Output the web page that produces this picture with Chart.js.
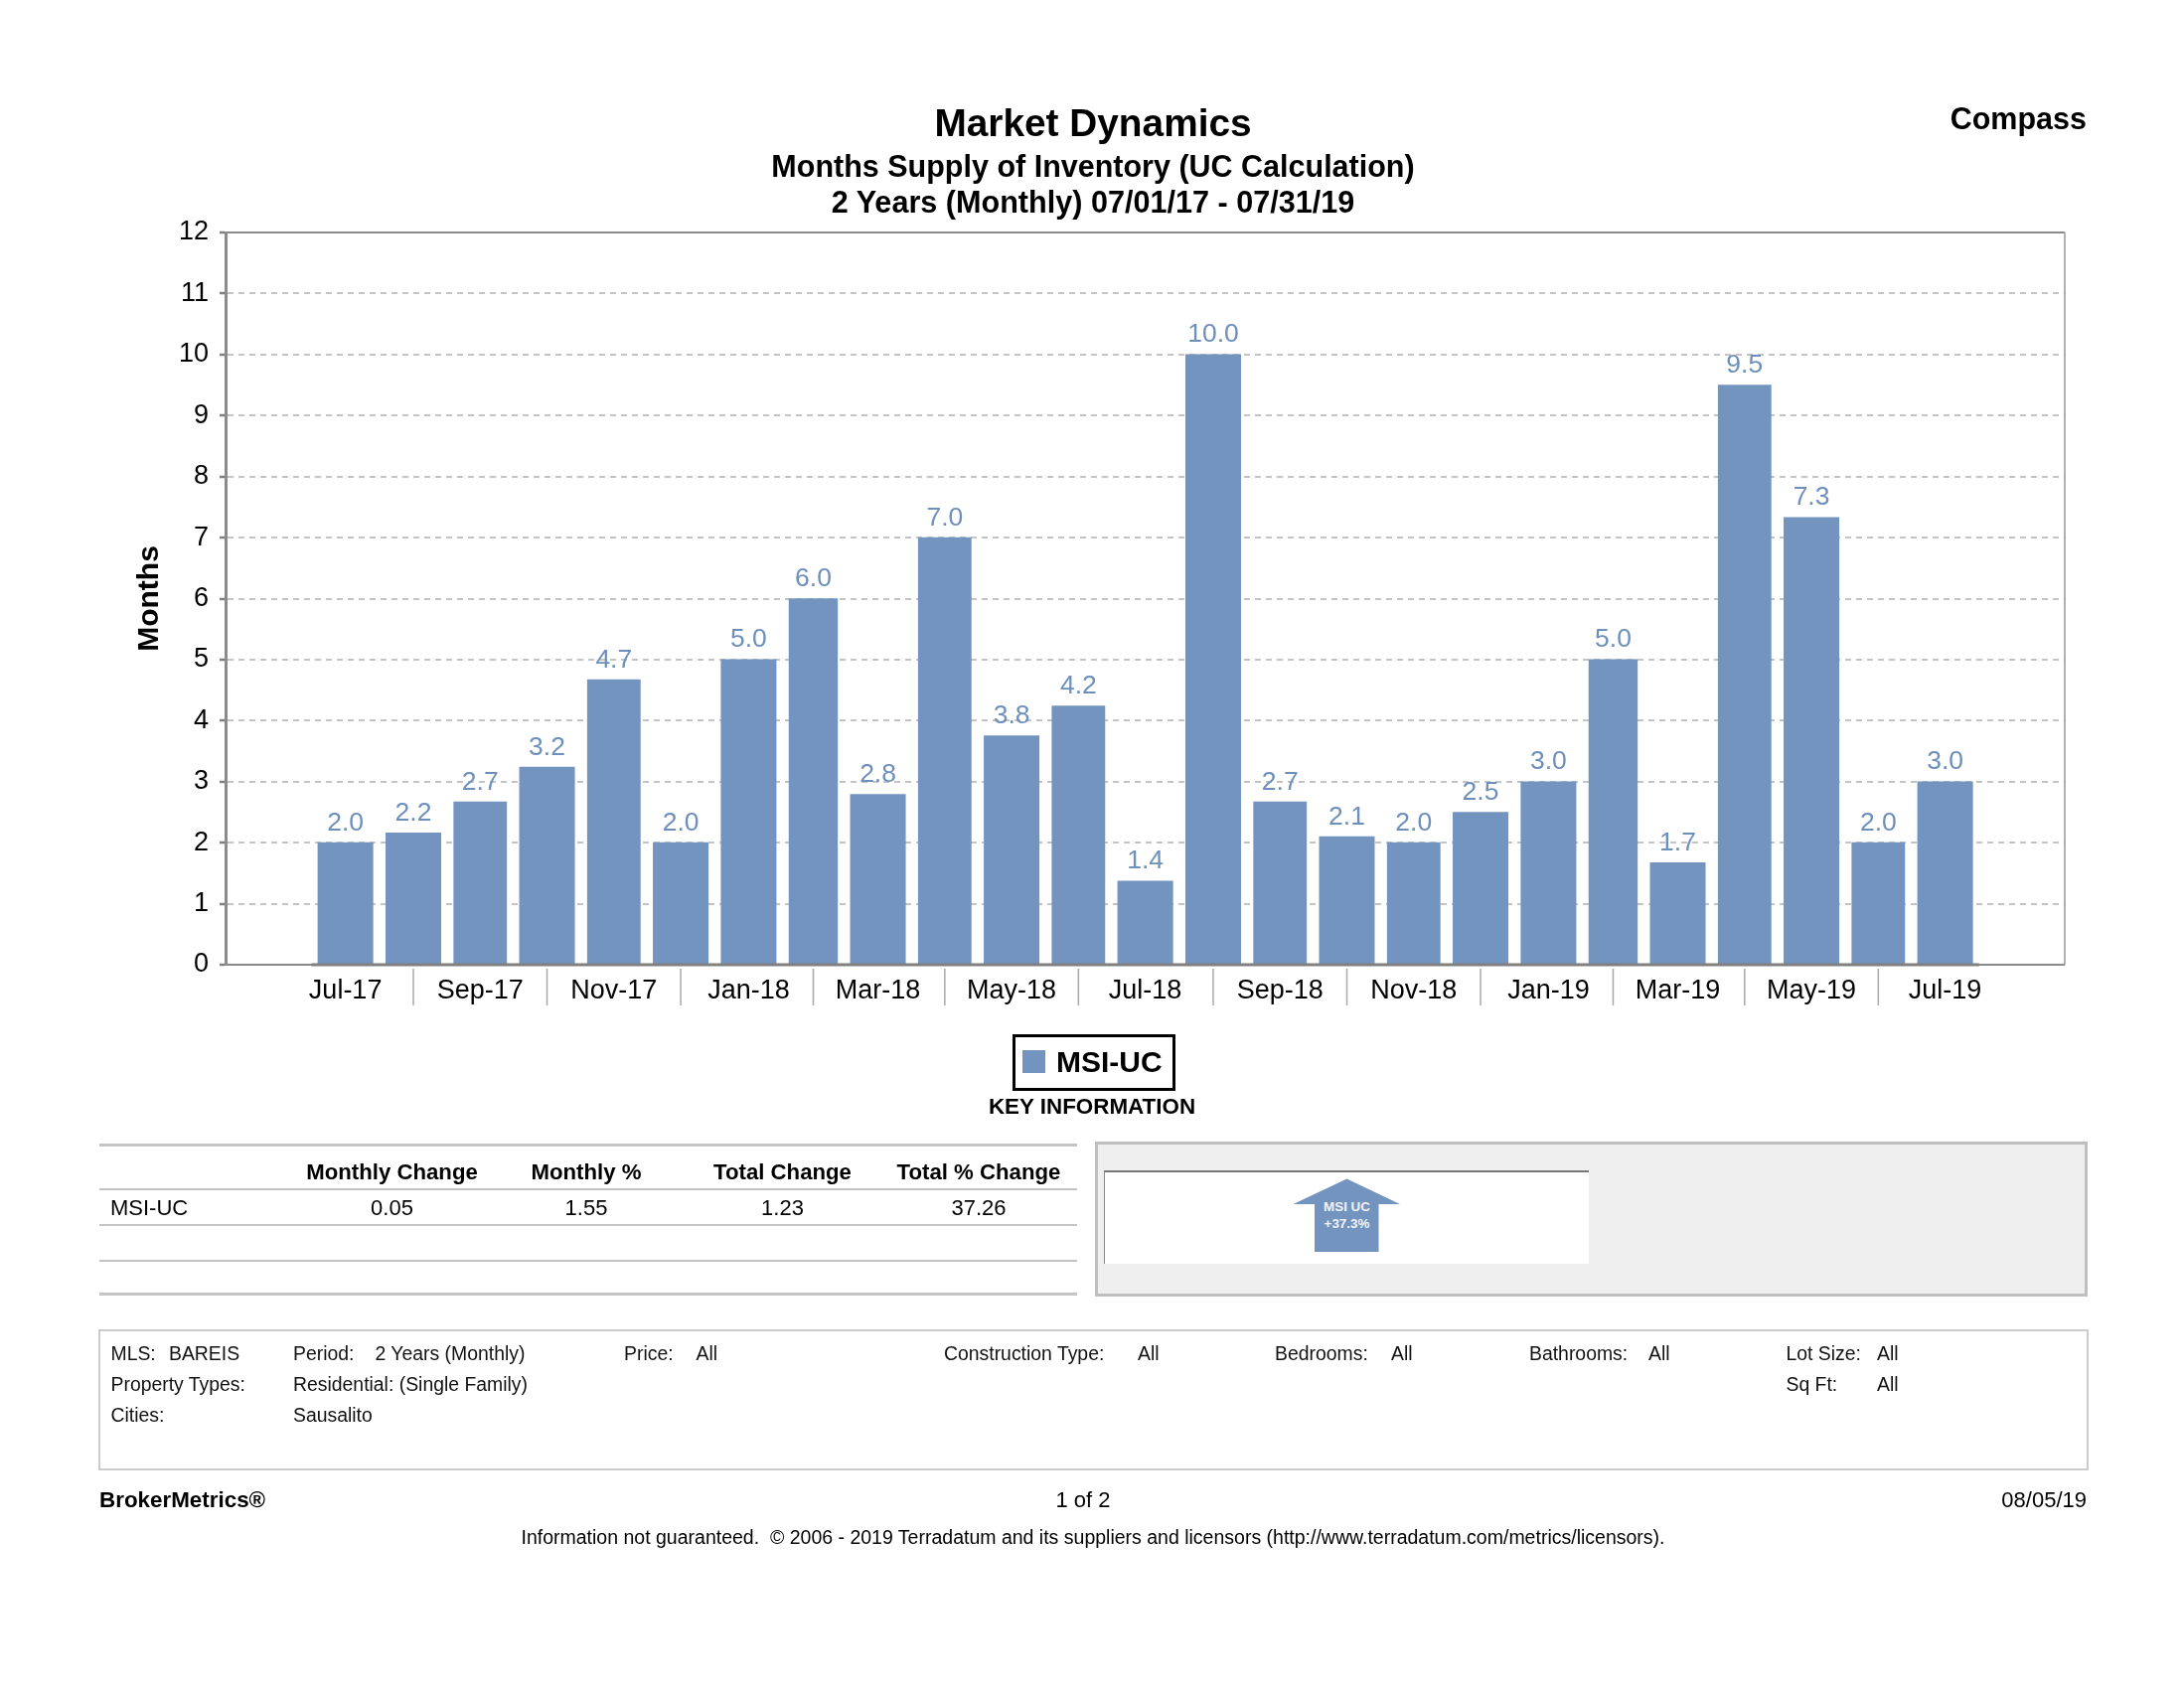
<!DOCTYPE html>
<html>
<head>
<meta charset="utf-8">
<title>Market Dynamics</title>
<script src="https://cdn.jsdelivr.net/npm/chart.js@4"></script>
<style>
  html, body { margin: 0; padding: 0; background: #fff; }
  #page { position: relative; width: 2198px; height: 1700px; overflow: hidden;
    font-family: "Liberation Sans", Arial, sans-serif; color: #000; }
  #page canvas { position: absolute; left: 0; top: 0; }
  .t { position: absolute; white-space: nowrap; transform: translateY(-50%); line-height: 1; }
  .c { transform: translate(-50%, -50%); }
  .r { transform: translate(-100%, -50%); }
  .b { font-weight: bold; }
  .hl { position: absolute; left: 100px; width: 984px; background: #c4c4c4; }
  .meta { color: #111; }
</style>
</head>
<body>
<div id="page">
  <canvas id="chart" width="2198" height="1700"></canvas>

  <div class="t c b" style="left:1100px;top:124px;font-size:38.8px">Market Dynamics</div>
  <div class="t c b" style="left:1100px;top:167px;font-size:30.5px">Months Supply of Inventory (UC Calculation)</div>
  <div class="t c b" style="left:1100px;top:203px;font-size:30.6px">2 Years (Monthly) 07/01/17 - 07/31/19</div>
  <div class="t r b" style="left:2100px;top:119px;font-size:30.5px">Compass</div>

  <!-- legend -->
  <div style="position:absolute;left:1019px;top:1041px;width:158px;height:51px;border:3.5px solid #000"></div>
  <div id="swatch" style="position:absolute;left:1029px;top:1057px;width:23px;height:23px"></div>
  <div class="t b" id="legendText" style="left:1063px;top:1069px;font-size:30px"></div>
  <div class="t c b" style="left:1099px;top:1114px;font-size:22.4px">KEY INFORMATION</div>

  <!-- key information table -->
  <div class="hl" style="top:1151px;height:3px"></div>
  <div class="hl" style="top:1196px;height:2px"></div>
  <div class="hl" style="top:1232px;height:2px"></div>
  <div class="hl" style="top:1268px;height:2px"></div>
  <div class="hl" style="top:1301px;height:3px"></div>
  <div id="keyTable"></div>

  <!-- change arrow panel -->
  <div style="position:absolute;left:1102px;top:1149px;width:993px;height:150px;background:#efefef;border:3px solid #bfbfbf"></div>
  <div style="position:absolute;left:1111px;top:1178px;width:487px;height:92px;background:#fff;border-top:2px solid #777;border-left:1.5px solid #888"></div>
  <svg style="position:absolute;left:0;top:0" width="2198" height="1700">
    <polygon id="arrow" points="1355.5,1186.5 1409,1212 1387.5,1212 1387.5,1260 1323,1260 1323,1212 1301.5,1212"/>
    <text x="1355.5" y="1219" text-anchor="middle" fill="#f0f3f8" font-family="Liberation Sans" font-weight="bold" font-size="13.4">MSI UC</text>
    <text x="1355.5" y="1236" text-anchor="middle" fill="#f0f3f8" font-family="Liberation Sans" font-weight="bold" font-size="13.4">+37.3%</text>
  </svg>

  <!-- report settings -->
  <div style="position:absolute;left:99px;top:1338px;width:1999px;height:138px;border:2px solid #ccc"></div>
  <div id="meta"></div>

  <div class="t b" style="left:100px;top:1510px;font-size:22.4px">BrokerMetrics®</div>
  <div class="t c" style="left:1090px;top:1510px;font-size:22px">1 of 2</div>
  <div class="t r" style="left:2100px;top:1510px;font-size:22px">08/05/19</div>
  <div class="t c" style="left:1100px;top:1548px;font-size:19.5px">Information not guaranteed.&nbsp; © 2006 - 2019 Terradatum and its suppliers and licensors (http://www.terradatum.com/metrics/licensors).</div>
</div>

<script>
const FONT = '"Liberation Sans", Arial, sans-serif';
const BAR_COLOR = "#7294bf";
const LABEL_COLOR = "#6d8fbc";

const seriesName = "MSI-UC";
const months = [
  "Jul-17", "Aug-17", "Sep-17", "Oct-17", "Nov-17", "Dec-17", "Jan-18",
  "Feb-18", "Mar-18", "Apr-18", "May-18", "Jun-18", "Jul-18", "Aug-18",
  "Sep-18", "Oct-18", "Nov-18", "Dec-18", "Jan-19", "Feb-19", "Mar-19",
  "Apr-19", "May-19", "Jun-19", "Jul-19",
];
// the x axis is a date axis, so a bar is as wide as its month is long
const monthDays = [
  31, 31, 30, 31, 30, 31, 31, 28, 31, 30, 31, 30, 31, 31, 30, 31, 30, 31, 31,
  28, 31, 30, 31, 30, 31,
];
const msiValues = [
  2.0, 2.16, 2.67, 3.24, 4.67, 2.0, 5.0, 6.0, 2.79, 7.0, 3.75, 4.24, 1.37,
  10.0, 2.67, 2.1, 2.0, 2.5, 3.0, 5.0, 1.67, 9.5, 7.33, 2.0, 3.0,
];

const tableHeaders = ["Monthly Change", "Monthly %", "Total Change", "Total % Change"];
const tableRow = ["0.05", "1.55", "1.23", "37.26"];

// day number of each month's middle, counted from 1 Jul 2017
let dayCount = 0;
const midDays = monthDays.map((d) => {
  const mid = dayCount + d / 2;
  dayCount += d;
  return mid;
});

// page text that sits around the chart
const tableCols = [394.5, 590, 787.5, 985];
tableHeaders.forEach((h, i) => addText("keyTable", h, tableCols[i], 1180, "t c b", 22.2));
tableRow.forEach((v, i) => addText("keyTable", v, tableCols[i], 1216, "t c", 22));
addText("keyTable", seriesName, 111, 1216, "t", 22);

const metaItems = [
  ["MLS:", 111.5, 1363], ["BAREIS", 170, 1363], ["Period:", 295, 1363], ["2 Years (Monthly)", 377.5, 1363],
  ["Price:", 628, 1363], ["All", 700.5, 1363], ["Construction Type:", 950, 1363], ["All", 1145, 1363],
  ["Bedrooms:", 1283, 1363], ["All", 1400, 1363], ["Bathrooms:", 1539, 1363], ["All", 1659, 1363],
  ["Lot Size:", 1797.5, 1363], ["All", 1889, 1363],
  ["Property Types:", 111.5, 1394], ["Residential: (Single Family)", 295, 1394], ["Sq Ft:", 1797.5, 1394], ["All", 1889, 1394],
  ["Cities:", 111.5, 1425], ["Sausalito", 295, 1425],
];
metaItems.forEach((m) => addText("meta", m[0], m[1], m[2], "t meta", 19.4));

function addText(parent, text, x, y, cls, size) {
  const d = document.createElement("div");
  d.className = cls;
  d.textContent = text;
  d.style.left = x + "px";
  d.style.top = y + "px";
  d.style.fontSize = size + "px";
  document.getElementById(parent).appendChild(d);
}

document.getElementById("swatch").style.background = BAR_COLOR;
document.getElementById("legendText").textContent = seriesName;
document.getElementById("arrow").setAttribute("fill", BAR_COLOR);

// frame, baseline, x separators and value labels
const chartExtras = {
  id: "chartExtras",
  beforeDatasetsDraw(chart) {
    const x = chart.scales.x;
    const pxPerDay = x.getPixelForValue(1) - x.getPixelForValue(0);
    chart.getDatasetMeta(0).data.forEach((bar, i) => {
      bar.width = monthDays[i] * pxPerDay - 13;
    });
  },
  afterDatasetsDraw(chart) {
    const { ctx, chartArea: a, scales: { x, y } } = chart;
    ctx.save();
    const line = (x1, y1, x2, y2, color, w) => {
      ctx.strokeStyle = color;
      ctx.lineWidth = w;
      ctx.beginPath();
      ctx.moveTo(x1, y1);
      ctx.lineTo(x2, y2);
      ctx.stroke();
    };
    line(a.left, a.top, a.right, a.top, "#8a8a8a", 2);
    line(a.right, a.top, a.right, a.bottom, "#999999", 1.5);
    line(a.left, a.bottom, a.right, a.bottom, "#8a8a8a", 2);
    line(x.getPixelForValue(0), a.bottom, x.getPixelForValue(dayCount), a.bottom, "#808080", 3);

    midDays.forEach((d, i) => {
      if (i % 2 === 1) {
        const px = x.getPixelForValue(d);
        line(px, a.bottom + 4, px, a.bottom + 41, "#a8a8a8", 1.5);
      }
    });

    ctx.font = "26.5px " + FONT;
    ctx.fillStyle = LABEL_COLOR;
    ctx.textAlign = "center";
    ctx.textBaseline = "alphabetic";
    msiValues.forEach((v, i) => {
      ctx.fillText(v.toFixed(1), x.getPixelForValue(midDays[i]), y.getPixelForValue(v) - 12.5);
    });
    ctx.restore();
  },
};

new Chart(document.getElementById("chart"), {
  type: "bar",
  data: {
    datasets: [
      {
        label: seriesName,
        data: msiValues.map((v, i) => ({ x: midDays[i], y: v })),
        backgroundColor: BAR_COLOR,
        barThickness: 55,
      },
    ],
  },
  plugins: [chartExtras],
  options: {
    responsive: false,
    animation: false,
    devicePixelRatio: 1,
    layout: { padding: { left: 133, top: 234, right: 120, bottom: 669 } },
    plugins: {
      legend: { display: false },
      tooltip: { enabled: false },
    },
    scales: {
      x: {
        type: "linear",
        offset: false,
        min: -39.2,
        max: 800.1,
        afterFit: (s) => { s.height = 60; },
        afterBuildTicks: (s) => { s.ticks = midDays.map((d) => ({ value: d })); },
        grid: { display: false },
        border: { display: false },
        ticks: {
          autoSkip: false,
          maxRotation: 0,
          padding: 2,
          color: "#000",
          font: { family: FONT, size: 27 },
          callback: (v, i) => (i % 2 === 0 ? months[i] : ""),
        },
      },
      y: {
        min: 0,
        max: 12,
        afterFit: (s) => { s.width = 94; },
        title: {
          display: true,
          text: "Months",
          color: "#000",
          padding: 0,
          font: { family: FONT, size: 30, weight: "bold" },
        },
        grid: {
          color: (c) => (c.tick.value === 0 || c.tick.value === 12 ? "rgba(0,0,0,0)" : "#c4c4c4"),
          lineWidth: 2,
          tickColor: "#808080",
          tickLength: 6,
          tickWidth: 2.5,
        },
        border: { display: true, color: "#8c8c8c", width: 3, dash: [6, 5] },
        ticks: {
          stepSize: 1,
          padding: 11,
          color: "#000",
          font: { family: FONT, size: 27 },
        },
      },
    },
  },
});
</script>
</body>
</html>
